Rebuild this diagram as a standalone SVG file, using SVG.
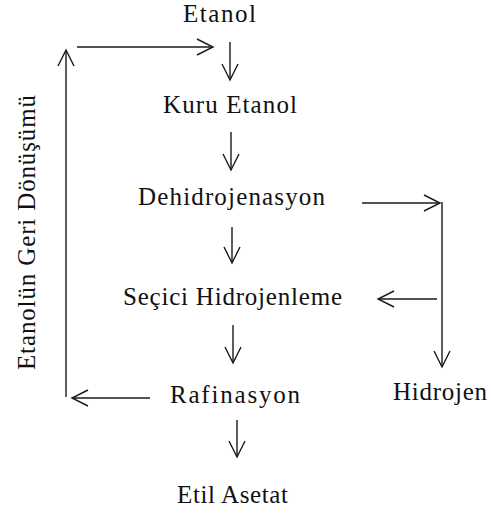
<svg xmlns="http://www.w3.org/2000/svg" width="492" height="513" viewBox="0 0 492 513">
<defs>
<style>
.t{font-family:"Liberation Serif","Times New Roman",serif;font-size:25px;fill:#111;}
.c line{stroke:#1a1a1a;stroke-width:1.4;fill:none;}
</style>
<marker id="ah" markerUnits="userSpaceOnUse" markerWidth="22" markerHeight="22" refX="17" refY="9" orient="auto" viewBox="0 0 22 22">
<path d="M1,1 L17,9 L1,17" fill="none" stroke="#1a1a1a" stroke-width="1.4"/>
</marker>
</defs>
<rect width="492" height="513" fill="#fff"/>
<g class="c" id="connectors">
<line x1="66" y1="397" x2="66" y2="50" marker-end="url(#ah)"/>
<line x1="77" y1="47" x2="213" y2="47" marker-end="url(#ah)"/>
<line x1="230" y1="42" x2="230" y2="80" marker-end="url(#ah)"/>
<line x1="231" y1="132" x2="231" y2="170" marker-end="url(#ah)"/>
<line x1="232" y1="227" x2="232" y2="263" marker-end="url(#ah)"/>
<line x1="362" y1="203" x2="440" y2="203" marker-end="url(#ah)"/>
<line x1="442" y1="202" x2="442" y2="367" marker-end="url(#ah)"/>
<line x1="437" y1="299" x2="378" y2="299" marker-end="url(#ah)"/>
<line x1="233" y1="325" x2="233" y2="363" marker-end="url(#ah)"/>
<line x1="150" y1="398" x2="72" y2="398" marker-end="url(#ah)"/>
<line x1="237" y1="420" x2="237" y2="457" marker-end="url(#ah)"/>
</g>
<g id="etanol"><text class="t" x="183" y="22" textLength="73" lengthAdjust="spacing">Etanol</text></g>
<g id="kuru-etanol"><text class="t" x="163" y="113" textLength="134" lengthAdjust="spacing">Kuru Etanol</text></g>
<g id="dehidrojenasyon"><text class="t" x="138" y="205" textLength="187" lengthAdjust="spacing">Dehidrojenasyon</text></g>
<g id="secici-hidrojenleme"><text class="t" x="123" y="305" textLength="219" lengthAdjust="spacing">Seçici Hidrojenleme</text></g>
<g id="rafinasyon"><text class="t" x="170" y="403" textLength="130" lengthAdjust="spacing">Rafinasyon</text></g>
<g id="hidrojen"><text class="t" x="393" y="400" textLength="94" lengthAdjust="spacing">Hidrojen</text></g>
<g id="etil-asetat"><text class="t" x="177" y="503" textLength="111" lengthAdjust="spacing">Etil Asetat</text></g>
<g id="etanol-geri-donusumu"><text class="t" transform="translate(35,370) rotate(-90)" x="0" y="0" textLength="275" lengthAdjust="spacing">Etanolün Geri Dönüşümü</text></g>
</svg>
